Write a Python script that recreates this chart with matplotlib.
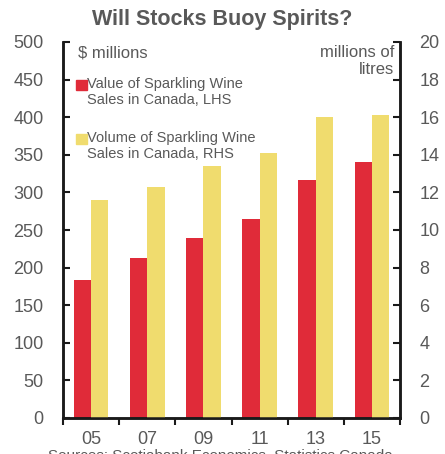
import matplotlib
matplotlib.use("Agg")
import matplotlib.pyplot as plt
from matplotlib.patches import Rectangle
from matplotlib.ticker import FixedLocator

years = ["05", "07", "09", "11", "13", "15"]
value_musd = [183, 213, 239, 265, 316, 340]
volume_ml = [11.6, 12.3, 13.4, 14.1, 16.0, 16.1]

plt.rcParams['font.family'] = ['Liberation Sans', 'DejaVu Sans']
grey = '#595959'
red = '#E02B39'
yellow = '#F0DC6E'

fig = plt.figure(figsize=(4.45, 4.54), dpi=100)
ax = fig.add_axes([63/445, 1-418/454, (400-63)/445, (418-42)/454])
ax2 = ax.twinx()

x = list(range(len(years)))
w = 0.31
ax.bar([i - w/2 for i in x], value_musd, width=w, color=red, zorder=2)
ax2.bar([i + w/2 for i in x], volume_ml, width=w, color=yellow, zorder=2)

ax.set_xlim(-0.5, len(years) - 0.5)
ax.set_ylim(0, 500)
ax2.set_ylim(0, 20)
ax.set_yticks(range(0, 501, 50))
ax2.set_yticks(range(0, 21, 2))
ax.set_xticks(x)
ax.set_xticklabels(years)
ax.xaxis.set_minor_locator(FixedLocator([i - 0.5 for i in range(len(years) + 1)]))

for a in (ax, ax2):
    for s in a.spines.values():
        s.set_linewidth(1.8)
        s.set_color('#1a1a1a')
    a.spines['top'].set_visible(False)

ax.tick_params(axis='y', direction='in', length=5, width=1.5, colors='#1a1a1a',
               labelcolor=grey, labelsize=13, pad=14)
ax2.tick_params(axis='y', direction='in', length=5, width=1.5, colors='#1a1a1a',
                labelcolor=grey, labelsize=13, pad=14)
ax.tick_params(axis='x', which='major', length=0, labelcolor=grey, labelsize=13, pad=9)
ax.tick_params(axis='x', which='minor', direction='out', length=5, width=1.5, colors='#1a1a1a')

fig.text(0.5, 1 - 20/454, "Will Stocks Buoy Spirits?", ha='center', va='center',
         fontsize=15.5, fontweight='bold', color=grey)

ax.text(15/337, 1 - 11/376, "$ millions", transform=ax.transAxes, ha='left', va='center',
        fontsize=12, color=grey)
ax.text(1 - 6/337, 1 - 3/376, "millions of\nlitres", transform=ax.transAxes, ha='right',
        va='top', fontsize=12, color=grey, linespacing=1.2)

for ytop, col, label in [(80, red, "Value of Sparkling Wine\nSales in Canada, LHS"),
                         (134, yellow, "Volume of Sparkling Wine\nSales in Canada, RHS")]:
    y0 = (418 - (ytop + 10)) / 376
    ax.add_patch(Rectangle((13/337, y0), 11/337, 10/376, transform=ax.transAxes,
                           color=col, zorder=5, clip_on=False))
    ax.text(24/337, (418 - (ytop - 3)) / 376, label, transform=ax.transAxes, ha='left',
            va='top', fontsize=10.5, color=grey, linespacing=1.15)

fig.text(0.5, 1 - 449/454, "Sources: Scotiabank Economics, Statistics Canada.",
         ha='center', va='top', fontsize=11, color=grey)

fig.savefig("out.png", dpi=100)
